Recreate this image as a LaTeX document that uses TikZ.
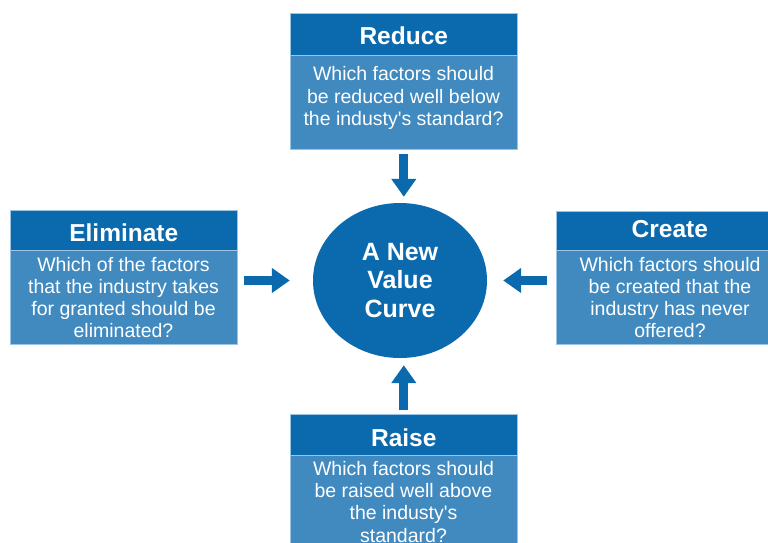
\documentclass[tikz,border=0pt]{standalone}
\usepackage{fontspec}
\setmainfont{Liberation Sans}
\usetikzlibrary{shapes.geometric,arrows.meta}
\definecolor{hdrblue}{HTML}{0B6AAE}
\definecolor{bodyblue}{HTML}{418AC0}
\definecolor{edgeblue}{HTML}{9CC4E4}
\tikzset{
  hdrbox/.style={rectangle, anchor=north west, inner sep=0pt, fill=hdrblue, draw=edgeblue, line width=0.6pt,
    minimum width=227pt, text=white, font=\fontsize{24.5}{28}\selectfont\bfseries},
  bodybox/.style={rectangle, anchor=north west, inner sep=0pt, fill=bodyblue, draw=edgeblue, line width=0.6pt,
    minimum width=227pt, minimum height=94pt},
  bodytext/.style={inner sep=0pt, align=center, text=white, font=\fontsize{19.5}{22.3}\selectfont},
  bigarrow/.style={draw=hdrblue, line width=9pt, -{Triangle[length=18pt,width=24pt]}}
}
\begin{document}
\begin{tikzpicture}[x=1pt,y=-1pt]
\useasboundingbox (0,0) rectangle (768,542);
\clip (0,0) rectangle (768,542);
% Reduce
\node[hdrbox, minimum height=42pt, text height=20pt] (reduceH) at (290,13) {Reduce};
\node[bodybox] (reduceB) at (290,55) {};
\node[bodytext] (reduceT) at (403.5,98) {Which factors should\\be reduced well below\\the industy\textquotesingle s standard?};
% Eliminate
\node[hdrbox, minimum height=40pt, text height=23pt] (elimH) at (10,210) {Eliminate};
\node[bodybox] (elimB) at (10,250) {};
\node[bodytext] (elimT) at (123.5,297.5) {Which of the factors\\that the industry takes\\for granted should be\\eliminated?};
% Create
\node[hdrbox, minimum height=39pt, text height=14pt] (createH) at (556,211) {Create};
\node[bodybox] (createB) at (556,250) {};
\node[bodytext] (createT) at (670,297.5) {Which factors should\\be created that the\\industry has never\\offered?};
% Raise
\node[hdrbox, minimum height=41pt, text height=23pt] (raiseH) at (290,414) {Raise};
\node[bodybox, minimum height=120pt] (raiseB) at (290,455) {};
\node[bodytext, anchor=north] (raiseT) at (403.5,461) {Which factors should\\be raised well above\\the industy\textquotesingle s\\standard?};
% Centre
\node[ellipse, fill=hdrblue, inner sep=0pt, minimum width=174pt, minimum height=155pt,
  text=white, align=center, font=\fontsize{25}{28.5}\selectfont\bfseries] (curve) at (400,280.5) {A New\\Value\\Curve};
% Arrows
\draw[bigarrow, shorten <=4pt, shorten >=6pt] (reduceB.south) -- (reduceB.south |- curve.north);
\draw[bigarrow, shorten <=6pt, shorten >=23pt] (curve.west -| elimB.east) -- (curve.west);
\draw[bigarrow, shorten <=9pt, shorten >=16pt] (curve.east -| createB.west) -- (curve.east);
\draw[bigarrow, shorten <=4pt, shorten >=7pt] (raiseH.north) -- (raiseH.north |- curve.south);
\end{tikzpicture}
\end{document}
